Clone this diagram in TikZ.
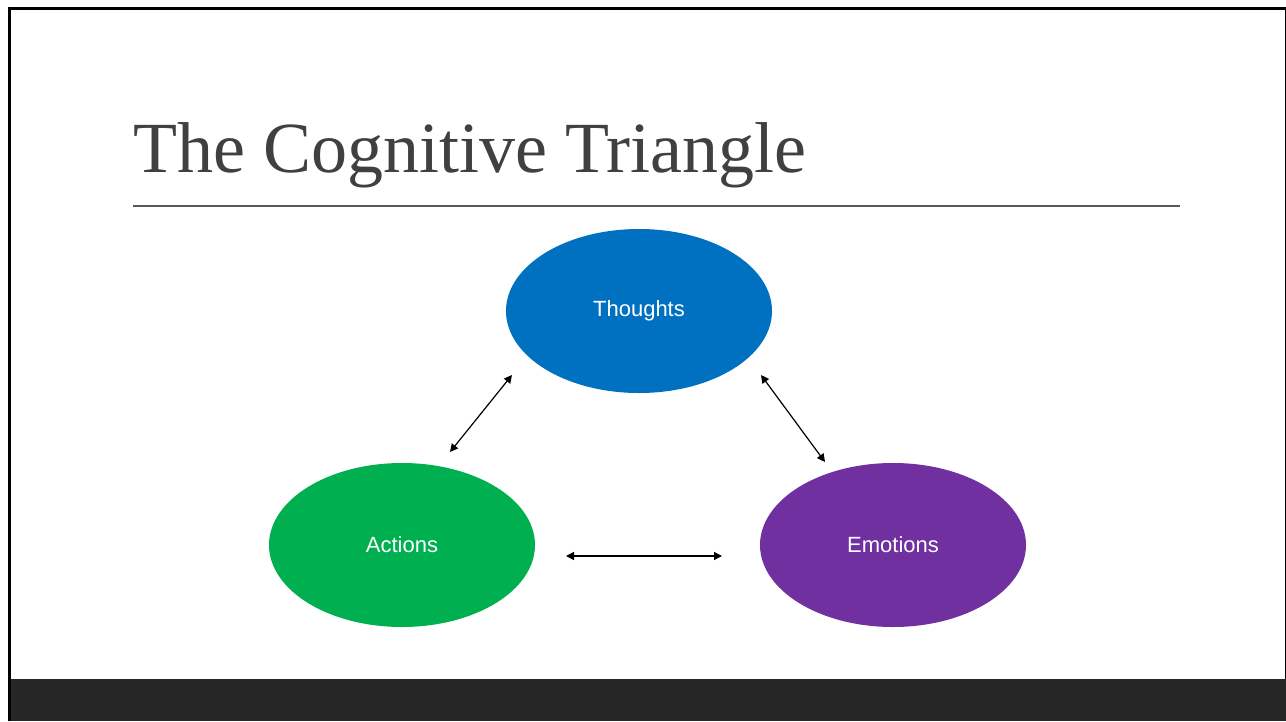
\documentclass[tikz,border=0pt]{standalone}
\usepackage{fontspec}
\setmainfont{Liberation Serif}
\newfontfamily\labelfont{Liberation Sans}
\usetikzlibrary{shapes.geometric,arrows.meta}

\definecolor{titlegray}{HTML}{404040}
\definecolor{rulegray}{HTML}{595959}
\definecolor{bargray}{HTML}{262626}
\definecolor{thoughtblue}{HTML}{0070C0}
\definecolor{actiongreen}{HTML}{00B050}
\definecolor{emotionpurple}{HTML}{7030A0}

\begin{document}
\begin{tikzpicture}[
     x = 1pt,
     y = -1pt,
     bubble/.style = {ellipse, minimum width = 266pt, minimum height = 164pt,
                      inner sep = 0pt, text = white,
                      font = \labelfont\fontsize{22}{24}\selectfont},
     link/.style = {{Triangle[length=8pt,width=8pt]}-{Triangle[length=8pt,width=8pt]},
                    line width = 1.2pt}
    ]

    \useasboundingbox (0,0) rectangle (1286,721);

    % slide frame and footer
    \fill [bargray] (10,679) rectangle (1286,721);
    \draw [line width = 2.6pt] (9.6,721) -- (9.6,8.7) -- (1286,8.7);
    \draw [line width = 1.2pt] (1285.2,8.7) -- (1285.2,679);

    % title
    \node [anchor = base west, inner sep = 0pt, text = titlegray,
           font = \fontsize{72}{80}\selectfont] (Title) at (133,172) {The Cognitive Triangle};
    \coordinate (RuleL) at (133,206);
    \coordinate (RuleR) at (1180,206);
    \draw [rulegray, line width = 1.3pt] (RuleL) -- (RuleR);

    % the three bubbles
    \node [bubble, fill = thoughtblue]   (Thoughts) at (639,311) {\raisebox{-2pt}{Thoughts}};
    \node [bubble, fill = actiongreen]   (Actions)  at (402,545) {\raisebox{-2pt}{Actions}};
    \node [bubble, fill = emotionpurple] (Emotions) at (893,545) {\raisebox{-2pt}{Emotions}};

    % arrow ends
    \coordinate (TA) at (512,375);
    \coordinate (AT) at (450,452);
    \coordinate (TE) at (761,375);
    \coordinate (ET) at (825,462);
    \coordinate (AE) at (566,556);
    \coordinate (EA) at (722,556);

    \draw [link] (TA) -- (AT);
    \draw [link] (TE) -- (ET);
    \draw [link] (AE) -- (EA);

\end{tikzpicture}
\end{document}
